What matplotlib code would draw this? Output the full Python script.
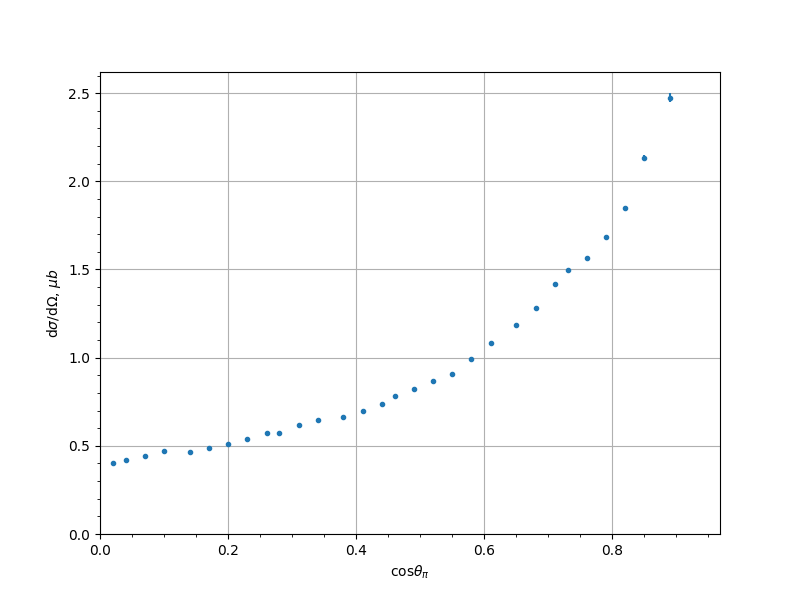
import matplotlib
matplotlib.use("Agg")
import matplotlib.pyplot as plt
import numpy as np

cos_theta = [0.02, 0.04, 0.07, 0.10, 0.14, 0.17, 0.20, 0.23, 0.26, 0.28,
             0.31, 0.34, 0.38, 0.41, 0.44, 0.46, 0.49, 0.52, 0.55, 0.58,
             0.61, 0.65, 0.68, 0.71, 0.73, 0.76, 0.79, 0.82, 0.85, 0.89]
dsigma = [0.405, 0.42, 0.44, 0.47, 0.465, 0.49, 0.51, 0.54, 0.575, 0.575,
          0.62, 0.645, 0.665, 0.695, 0.735, 0.785, 0.825, 0.87, 0.905, 0.995,
          1.085, 1.185, 1.28, 1.415, 1.495, 1.565, 1.685, 1.85, 2.135, 2.475]
err = [0.004, 0.004, 0.004, 0.004, 0.004, 0.004, 0.004, 0.005, 0.005, 0.005,
       0.005, 0.005, 0.005, 0.005, 0.006, 0.006, 0.006, 0.006, 0.007, 0.007,
       0.007, 0.008, 0.008, 0.009, 0.009, 0.009, 0.010, 0.012, 0.015, 0.025]

fig, ax = plt.subplots(figsize=(8, 6), dpi=100)
ax.errorbar(cos_theta, dsigma, yerr=err, fmt='.')
ax.set_xlim(0, 0.968)
ax.set_ylim(0, 2.62)
ax.minorticks_on()
ax.grid(True, which='major')
ax.set_xlabel(r'cos$\theta_\pi$')
ax.set_ylabel(r'd$\sigma$/d$\Omega$, $\mu b$')
fig.savefig("out.png")
